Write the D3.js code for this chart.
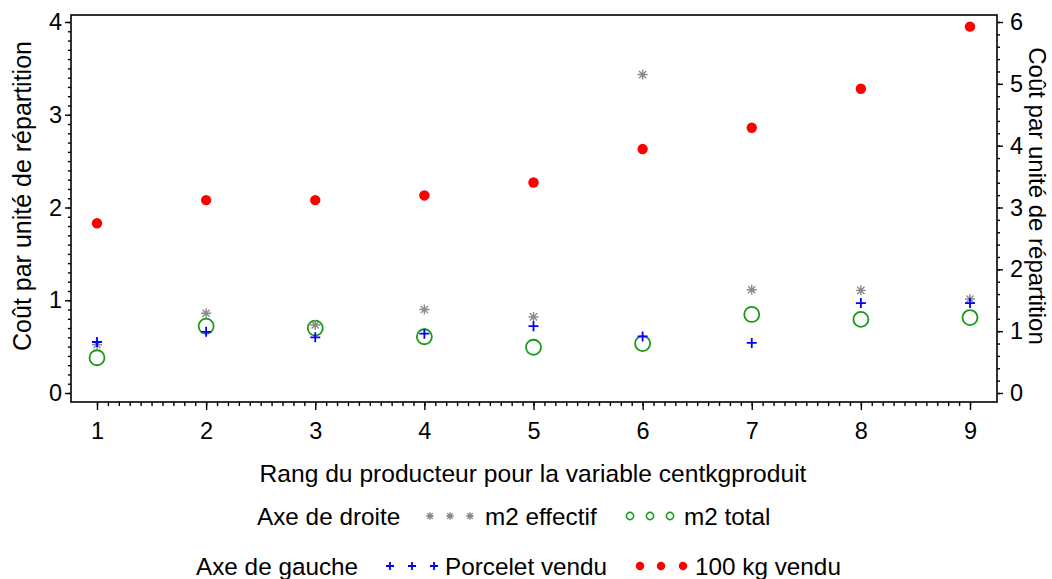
<!DOCTYPE html>
<html>
<head>
<meta charset="utf-8">
<script src="https://cdn.jsdelivr.net/npm/d3@7/dist/d3.min.js"></script>
<style>
  html, body { margin: 0; padding: 0; background: #fff; }
  svg { display: block; font-family: "Liberation Sans", Arial, sans-serif; }
</style>
</head>
<body>
<svg id="chart" width="1052" height="579"></svg>
<script>
// Rang du producteur (x)
const ranks = [1, 2, 3, 4, 5, 6, 7, 8, 9];
// Axe de gauche
const porceletVendu = [0.55, 0.66, 0.60, 0.64, 0.72, 0.61, 0.54, 0.97, 0.97];
const kgVendu100   = [1.83, 2.08, 2.08, 2.13, 2.27, 2.63, 2.86, 3.28, 3.95];
// Axe de droite
const m2Effectif = [0.78, 1.29, 1.10, 1.35, 1.23, 5.15, 1.67, 1.66, 1.52];
const m2Total    = [0.57, 1.08, 1.05, 0.91, 0.74, 0.80, 1.27, 1.19, 1.22];
// Graduations
const xTicks = [1, 2, 3, 4, 5, 6, 7, 8, 9];
const leftTicks = [0, 1, 2, 3, 4];
const rightTicks = [0, 1, 2, 3, 4, 5, 6];

const svg = d3.select("#chart");

const frame = { left: 71, right: 997, top: 15, bottom: 402 };

const x = d3.scaleLinear().domain([1, 9]).range([97, 970]);
const yL = d3.scaleLinear().domain([0, 4]).range([393, 22]);
const yR = d3.scaleLinear().domain([0, 6]).range([393, 22]);

const tickFont = 23.5;

// Cadre
svg.append("rect")
  .attr("x", frame.left).attr("y", frame.top)
  .attr("width", frame.right - frame.left).attr("height", frame.bottom - frame.top)
  .attr("fill", "none").attr("stroke", "#000").attr("stroke-width", 1.6);

function styleAxis(g) {
  g.select(".domain").remove();
  g.selectAll("line").attr("stroke", "#000").attr("stroke-width", 1.4);
  g.selectAll("text").attr("font-size", tickFont).attr("fill", "#000")
    .attr("font-family", "'Liberation Sans', Arial, sans-serif");
}

const round = v => Math.round(v * 1000) / 1000;

// Axe X
svg.append("g").attr("transform", `translate(0,${frame.bottom})`)
  .call(d3.axisBottom(x).tickValues(d3.range(10, 91).map(v => round(v / 10))).tickSize(4).tickFormat(""))
  .call(styleAxis);
svg.append("g").attr("transform", `translate(0,${frame.bottom})`)
  .call(d3.axisBottom(x).tickValues(xTicks).tickSize(8).tickPadding(12).tickFormat(d3.format("d")))
  .call(styleAxis);

// Axe de gauche
svg.append("g").attr("transform", `translate(${frame.left},0)`)
  .call(d3.axisLeft(yL).tickValues(d3.range(0, 41).map(v => round(v / 10))).tickSize(3).tickFormat(""))
  .call(styleAxis);
svg.append("g").attr("transform", `translate(${frame.left},0)`)
  .call(d3.axisLeft(yL).tickValues(leftTicks).tickSize(6).tickPadding(3).tickFormat(d3.format("d")))
  .call(styleAxis);

// Axe de droite
svg.append("g").attr("transform", `translate(${frame.right},0)`)
  .call(d3.axisRight(yR).tickValues(d3.range(0, 31).map(v => round(v / 5))).tickSize(3).tickFormat(""))
  .call(styleAxis);
svg.append("g").attr("transform", `translate(${frame.right},0)`)
  .call(d3.axisRight(yR).tickValues(rightTicks).tickSize(6).tickPadding(7).tickFormat(d3.format("d")))
  .call(styleAxis);

// Titres des axes
svg.append("text")
  .attr("transform", "translate(31,196) rotate(-90)")
  .attr("text-anchor", "middle").attr("font-size", 25)
  .text("Coût par unité de répartition");
svg.append("text")
  .attr("transform", "translate(1029,196) rotate(90)")
  .attr("text-anchor", "middle").attr("font-size", 24)
  .text("Coût par unité de répartition");
svg.append("text")
  .attr("x", 533).attr("y", 482)
  .attr("text-anchor", "middle").attr("font-size", 24.6)
  .text("Rang du producteur pour la variable centkgproduit");

// Symboles
function plus(g, cx, cy, s, color) {
  g.append("path")
    .attr("d", `M${cx - s},${cy}H${cx + s}M${cx},${cy - s}V${cy + s}`)
    .attr("stroke", color).attr("stroke-width", 1.8).attr("fill", "none");
}
function star(g, cx, cy, s, color) {
  const d = s * 0.72;
  g.append("path")
    .attr("d", `M${cx - s},${cy}H${cx + s}M${cx},${cy - s}V${cy + s}` +
               `M${cx - d},${cy - d}L${cx + d},${cy + d}M${cx - d},${cy + d}L${cx + d},${cy - d}`)
    .attr("stroke", color).attr("stroke-width", 1.4).attr("fill", "none");
}

const gray = "#8a8a8a", green = "#1a9a1a", blue = "#0000ff", red = "#ff0000";

const marks = svg.append("g");
// m2 total (droite)
ranks.forEach((r, i) => {
  marks.append("circle").attr("cx", x(r)).attr("cy", yR(m2Total[i])).attr("r", 7.5)
    .attr("fill", "none").attr("stroke", green).attr("stroke-width", 1.8);
});
// m2 effectif (droite)
ranks.forEach((r, i) => star(marks, x(r), yR(m2Effectif[i]), 5, gray));
// Porcelet vendu (gauche)
ranks.forEach((r, i) => plus(marks, x(r), yL(porceletVendu[i]), 5, blue));
// 100 kg vendu (gauche)
ranks.forEach((r, i) => {
  marks.append("circle").attr("cx", x(r)).attr("cy", yL(kgVendu100[i])).attr("r", 5.2)
    .attr("fill", red);
});

// Légende
const legFont = 24.3;
const leg = svg.append("g").attr("font-size", legFont);
leg.append("text").attr("x", 257).attr("y", 525).text("Axe de droite");
[430, 450, 470].forEach(cx => star(leg, cx, 516, 3.8, gray));
leg.append("text").attr("x", 485).attr("y", 525).text("m2 effectif");
[630, 650, 670].forEach(cx => leg.append("circle").attr("cx", cx).attr("cy", 516).attr("r", 3.6)
  .attr("fill", "none").attr("stroke", green).attr("stroke-width", 1.6));
leg.append("text").attr("x", 684).attr("y", 525).text("m2 total");

leg.append("text").attr("x", 196).attr("y", 575).text("Axe de gauche");
[390, 412, 434].forEach(cx => plus(leg, cx, 566, 4, blue));
leg.append("text").attr("x", 445).attr("y", 575).text("Porcelet vendu");
[640, 661, 683].forEach(cx => leg.append("circle").attr("cx", cx).attr("cy", 566).attr("r", 4.2)
  .attr("fill", red));
leg.append("text").attr("x", 695).attr("y", 575).text("100 kg vendu");
</script>
</body>
</html>
